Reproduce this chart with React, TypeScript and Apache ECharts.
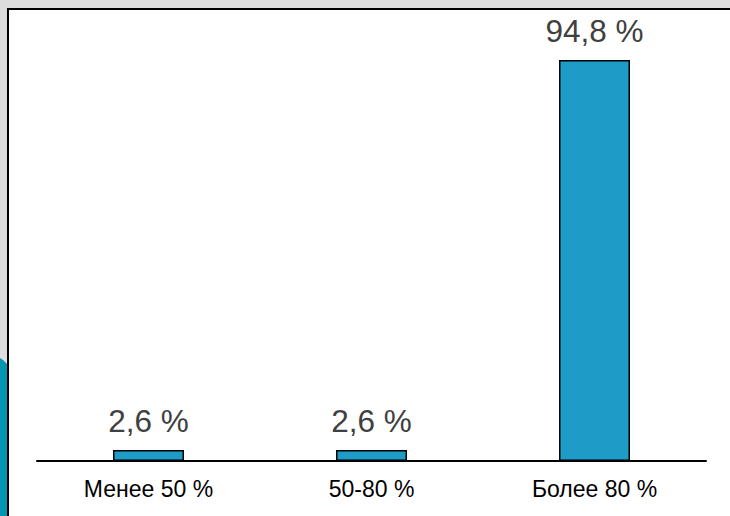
import React, { useEffect, useRef } from "react";
import * as echarts from "echarts";

const categories = ["Менее 50 %", "50-80 %", "Более 80 %"];
const values = [2.6, 2.6, 94.8];

export default function App() {
  const ref = useRef<HTMLDivElement>(null);
  useEffect(() => {
    if (!ref.current) return;
    const chart = echarts.init(ref.current, null, { renderer: "svg" });
    chart.setOption({
      animation: false,
      backgroundColor: "#dddddd",
      textStyle: { fontFamily: "Liberation Sans, Arial, sans-serif" },
      graphic: [
        {
          type: "polygon",
          z: -10,
          silent: true,
          shape: { points: [[0, 358], [3, 360], [7, 364], [7, 516], [0, 516]] },
          style: { fill: "#0796b2" },
        },
        {
          type: "rect",
          z: -9,
          silent: true,
          shape: { x: 8, y: 9, width: 730, height: 520 },
          style: { fill: "#ffffff", stroke: "#000000", lineWidth: 2 },
        },
      ],
      grid: { left: 37, right: 24, top: 38, bottom: 55 },
      xAxis: {
        type: "category",
        data: categories,
        axisLine: { show: true, lineStyle: { color: "#000000", width: 2 } },
        axisTick: { show: false },
        axisLabel: {
          color: "#000000",
          fontSize: 23,
          margin: 16,
          fontFamily: "Liberation Sans, Arial, sans-serif",
        },
      },
      yAxis: {
        type: "value",
        min: 0,
        max: 100,
        show: false,
        splitLine: { show: false },
      },
      series: [
        {
          type: "bar",
          data: values,
          barWidth: 71,
          itemStyle: { color: "#1f9bc8", borderColor: "#000000", borderWidth: 1.5 },
          label: {
            show: true,
            position: "top",
            distance: 13,
            color: "#404040",
            fontSize: 31.5,
            fontFamily: "Liberation Sans, Arial, sans-serif",
            formatter: (p: any) => String(p.value).replace(".", ",") + " %",
          },
        },
      ],
    });
    return () => chart.dispose();
  }, []);
  return (
    <div
      ref={ref}
      style={{ position: "absolute", left: 0, top: 0, width: 730, height: 516 }}
    />
  );
}
